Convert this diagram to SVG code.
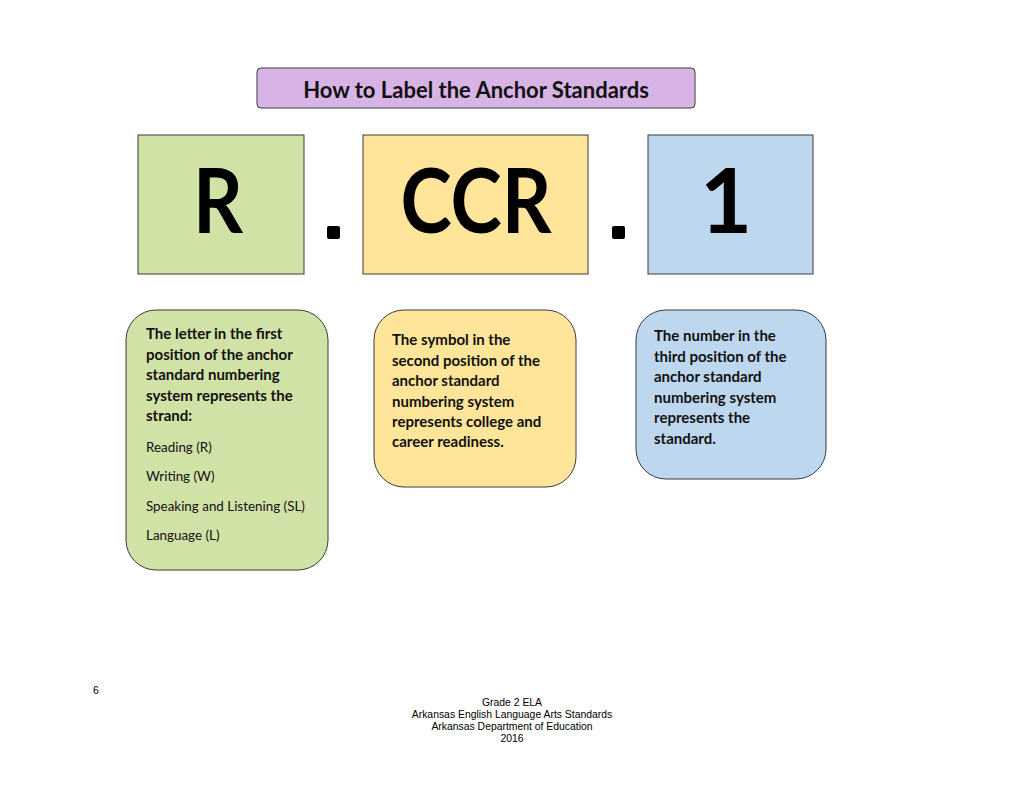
<svg xmlns="http://www.w3.org/2000/svg" width="1024" height="790" viewBox="0 0 1024 790">
<style>
.box{stroke:#3a3a3a;stroke-width:1}
.big{font-family:Lato,"Open Sans",sans-serif;font-weight:bold;font-size:90px;fill:#000;text-anchor:middle}
.b{font-family:Lato,"Open Sans",sans-serif;font-weight:bold;font-size:15px;fill:#111}
.n{font-family:Lato,"Open Sans",sans-serif;font-size:13.4px;fill:#111}
.f{font-family:"Liberation Sans",Arial,sans-serif;font-size:10.4px;fill:#000}
</style>
<rect width="1024" height="790" fill="#fff"/>
<g id="title">
<rect class="box" x="257" y="68" width="438" height="40" rx="4" fill="#D8B4E6"/>
<text x="476" y="98" style="font-family:Lato,'Open Sans',sans-serif;font-weight:bold;font-size:22px;fill:#111;text-anchor:middle">How to Label the Anchor Standards</text>
</g>
<g id="box-R">
<rect class="box" x="138" y="135" width="166" height="139" fill="#D1E2A7"/>
<text class="big" x="218" y="233" textLength="50" lengthAdjust="spacingAndGlyphs">R</text>
</g>
<g id="dot1"><rect x="327" y="226" width="13" height="13" rx="2" fill="#000"/></g>
<g id="box-CCR">
<rect class="box" x="363" y="135" width="225" height="139" fill="#FFE599"/>
<text class="big" x="476" y="233" textLength="151" lengthAdjust="spacingAndGlyphs">CCR</text>
</g>
<g id="dot2"><rect x="612" y="226" width="13" height="13" rx="2" fill="#000"/></g>
<g id="box-1">
<rect class="box" x="648" y="135" width="165" height="139" fill="#BDD7EE"/>
<text class="big" x="726" y="233">1</text>
</g>
<g id="desc-R">
<rect class="box" x="126" y="310" width="202" height="260" rx="30" fill="#D1E2A7"/>
<text class="b" x="146" y="339">The letter in the first</text>
<text class="b" x="146" y="360">position of the anchor</text>
<text class="b" x="146" y="380">standard numbering</text>
<text class="b" x="146" y="401">system represents the</text>
<text class="b" x="146" y="421">strand:</text>
<text class="n" x="146" y="452">Reading (R)</text>
<text class="n" x="146" y="481">Writing (W)</text>
<text class="n" x="146" y="511">Speaking and Listening (SL)</text>
<text class="n" x="146" y="540">Language (L)</text>
</g>
<g id="desc-CCR">
<rect class="box" x="374" y="310" width="202" height="177" rx="30" fill="#FFE599"/>
<text class="b" x="392" y="345">The symbol in the</text>
<text class="b" x="392" y="366">second position of the</text>
<text class="b" x="392" y="386">anchor standard</text>
<text class="b" x="392" y="407">numbering system</text>
<text class="b" x="392" y="427">represents college and</text>
<text class="b" x="392" y="447">career readiness.</text>
</g>
<g id="desc-1">
<rect class="box" x="636" y="310" width="190" height="169" rx="30" fill="#BDD7EE"/>
<text class="b" x="654" y="341">The number in the</text>
<text class="b" x="654" y="362">third position of the</text>
<text class="b" x="654" y="382">anchor standard</text>
<text class="b" x="654" y="403">numbering system</text>
<text class="b" x="654" y="423">represents the</text>
<text class="b" x="654" y="444">standard.</text>
</g>
<g id="connectors"></g>
<g id="footer">
<text class="f" x="93" y="694">6</text>
<text class="f" x="512" y="706" text-anchor="middle">Grade 2 ELA</text>
<text class="f" x="512" y="718" text-anchor="middle">Arkansas English Language Arts Standards</text>
<text class="f" x="512" y="730" text-anchor="middle">Arkansas Department of Education</text>
<text class="f" x="512" y="742" text-anchor="middle">2016</text>
</g>
</svg>
